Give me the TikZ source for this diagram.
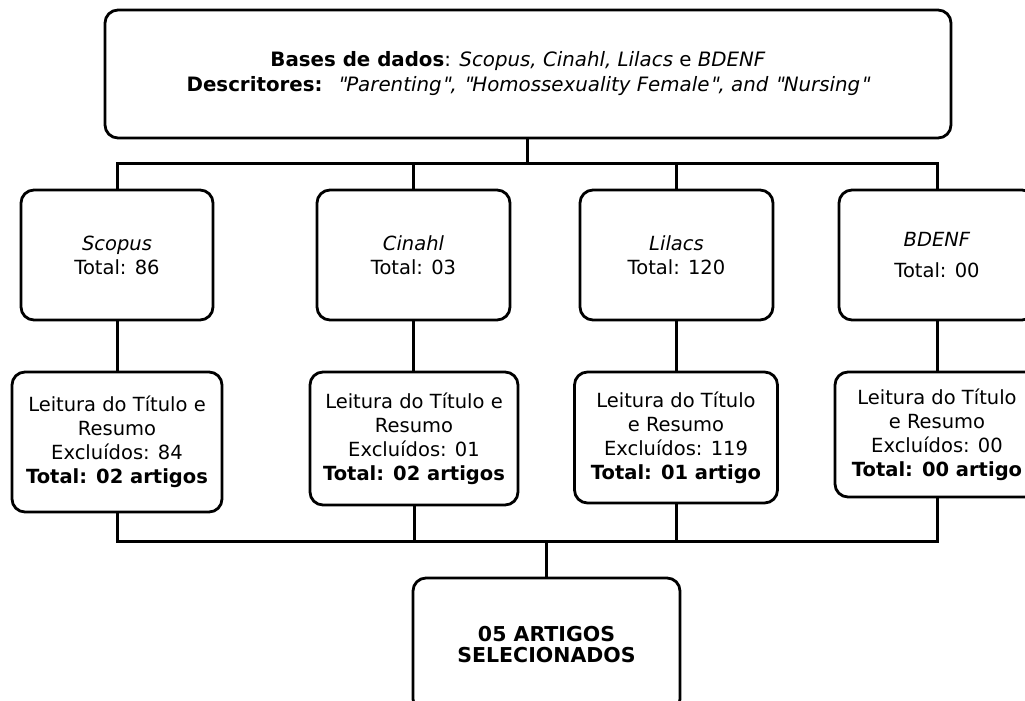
\documentclass[tikz,border=0pt]{standalone}
\usepackage{fontspec}
\setmainfont{DejaVu Sans}
\newfontfamily\qfont{DejaVu Sans}[FakeSlant=0.2]
\newcommand{\sq}{{\qfont\symbol{34}}}
\begin{document}
\begin{tikzpicture}[x=1pt,y=-1pt,
  box/.style={draw=black, line width=2.8pt, rounded corners=13pt, align=center, inner sep=0pt},
  conn/.style={draw=black, line width=3pt},
  boxfont/.style={font=\fontsize{19.5}{24}\selectfont}]
\useasboundingbox (0,0) rectangle (1025,701);
\clip (0,0) rectangle (1025,701);
\fill[white] (0,0) rectangle (1025,701);
% top box
\node[box, minimum width=846pt, minimum height=128pt, font=\fontsize{19.8}{25}\selectfont] (top) at (528,74)
  {\textbf{Bases de dados}: \textit{Scopus, Cinahl, Lilacs} e \textit{BDENF}\hspace*{20pt}\\
   \textbf{Descritores:} \ \textit{\sq Parenting\sq, \sq Homossexuality Female\sq, and \sq Nursing\sq}};
% source boxes
\node[box, boxfont, minimum width=192pt, minimum height=130pt] (s1) at (117,255) {\textit{Scopus}\\Total: 86};
\node[box, boxfont, minimum width=193pt, minimum height=130pt] (s2) at (413.5,255) {\textit{Cinahl}\\Total: 03};
\node[box, boxfont, minimum width=193pt, minimum height=130pt] (s3) at (676.5,255) {\textit{Lilacs}\\Total: 120};
\node[box, font=\fontsize{19.5}{31}\selectfont, minimum width=196pt, minimum height=130pt] (s4) at (937,255) {\textit{BDENF}\\Total: 00};
% screening boxes
\node[box, boxfont, minimum width=210pt, minimum height=140pt] (l1) at (117,442)
  {Leitura do Título e\\Resumo\\Excluídos: 84\\\textbf{Total: 02 artigos}};
\node[box, boxfont, minimum width=208pt, minimum height=133pt] (l2) at (414,438.5)
  {Leitura do Título e\\Resumo\\Excluídos: 01\\\textbf{Total: 02 artigos}};
\node[box, boxfont, minimum width=203pt, minimum height=131pt] (l3) at (676,437.5)
  {Leitura do Título\\e Resumo\\Excluídos: 119\\\textbf{Total: 01 artigo}};
\node[box, boxfont, minimum width=204pt, minimum height=125pt] (l4) at (937,434.5)
  {Leitura do Título\\e Resumo\\Excluídos: 00\\\textbf{Total: 00 artigo}};
% final box
\node[box, font=\fontsize{20.5}{21}\selectfont\bfseries, minimum width=267pt, minimum height=134pt] (final) at (546.5,645)
  {05 ARTIGOS\\SELECIONADOS};
% connector coordinates
\coordinate (busT) at (527.5,163.5);
\coordinate (busB) at (546.5,541.5);
% top connectors
\draw[conn] (top.south -| busT) -- (busT);
\draw[conn] (s1.north) |- (busT) -| (s4.north);
\draw[conn] (s2.north) -- (s2.north |- busT);
\draw[conn] (s3.north) -- (s3.north |- busT);
% middle connectors
\draw[conn] (s1.south) -- (l1.north);
\draw[conn] (s2.south) -- (s2.south |- l2.north);
\draw[conn] (s3.south) -- (s3.south |- l3.north);
\draw[conn] (s4.south) -- (l4.north);
% bottom connectors
\draw[conn] (l1.south) |- (busB) -| (l4.south);
\draw[conn] (l2.south) -- (l2.south |- busB);
\draw[conn] (l3.south) -- (l3.south |- busB);
\draw[conn] (busB) -- (final.north);
\end{tikzpicture}
\end{document}
